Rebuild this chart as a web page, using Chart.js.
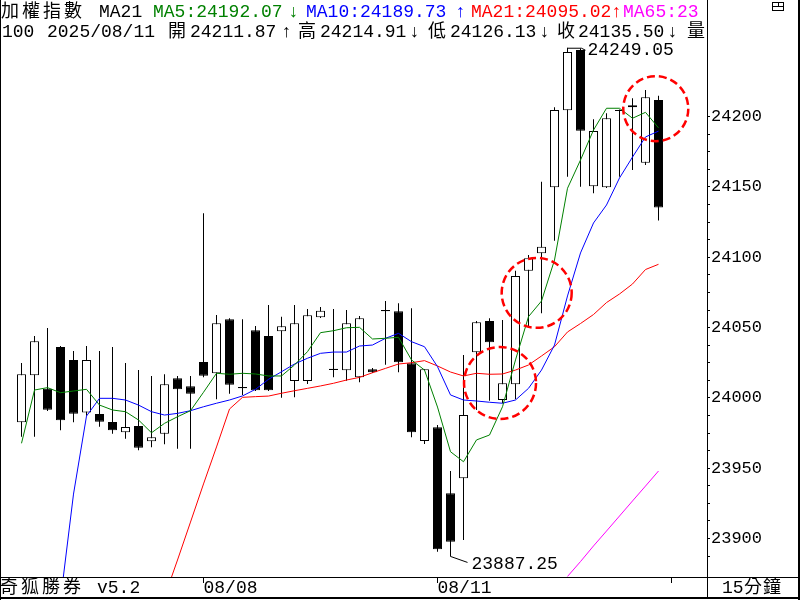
<!DOCTYPE html>
<html><head><meta charset="utf-8">
<script src="https://cdn.jsdelivr.net/npm/chart.js@4.4.1/dist/chart.umd.min.js"></script>
<style>
html,body{margin:0;padding:0;background:#fff;}
#wrap{position:relative;width:800px;height:600px;overflow:hidden;background:#fff;}
#c{position:absolute;left:0;top:0;}
.seg{position:absolute;white-space:pre;font-family:"Liberation Mono","Noto Sans CJK TC",monospace;font-size:18px;line-height:20px;color:#000;}
.arr{font-weight:bold;}
#hdr{position:absolute;left:0;top:0;width:707px;height:44px;overflow:hidden;}
</style></head>
<body><div id="wrap"><canvas id="c" width="800" height="600"></canvas><div id="hdr"></div><div id="foot"></div></div>
<script>
// ---- data (15-minute bars, index 0..49) ----
const barIndex = [0,1,2,3,4,5,6,7,8,9,10,11,12,13,14,15,16,17,18,19,20,21,22,23,24,25,26,27,28,29,30,31,32,33,34,35,36,37,38,39,40,41,42,43,44,45,46,47,48,49];
const open  = [23982.6,24016.1,24006.5,24036.2,24027.0,23989.7,23988.5,23982.9,23975.5,23980.0,23969.1,23974.5,24013.9,24008.2,24025.5,24017.5,24055.9,24007.7,24048.1,24044.0,24047.4,24012.0,24012.0,24057.3,24020.8,24019.6,24014.6,24020.3,24062.5,24061.6,24024.6,23969.3,23979.1,23932.1,23942.8,24032.4,24054.7,23998.5,24009.7,24090.5,24102.8,24149.8,24204.5,24247.5,24150.5,24149.8,24204.1,24206.7,24167.3,24211.87];
const high  = [24024.8,24044.0,24049.7,24036.9,24033.4,24036.9,24033.4,24036.2,24024.8,24019.8,24015.6,24016.8,24015.6,24015.6,24131.3,24059.0,24056.6,24055.9,24051.1,24066.1,24057.8,24066.1,24063.2,24064.6,24063.2,24062.5,24058.2,24021.3,24068.9,24067.3,24063.7,24020.3,23980.7,23948.0,24030.5,24054.7,24056.6,24055.4,24090.5,24101.6,24153.8,24206.7,24249.05,24248.5,24198.1,24202.4,24205.1,24213.1,24219.0,24214.91];
const low   = [23972.4,23972.4,23990.7,23977.0,23982.6,23987.3,23979.5,23974.5,23971.0,23962.7,23964.9,23967.0,23963.9,23963.9,24014.6,23999.0,24003.0,24002.1,24004.9,24004.9,24000.1,24000.4,24009.9,24056.8,24014.6,24012.2,24011.1,24017.7,24023.6,24018.2,23972.0,23967.2,23890.6,23887.25,23898.9,23991.4,23998.0,23996.2,23999.0,24050.2,24060.2,24111.8,24157.3,24150.2,24145.5,24149.3,24157.3,24162.1,24165.6,24126.13];
const close = [24016.8,24040.3,23991.6,23984.1,23988.8,24027.0,23983.1,23977.0,23979.3,23964.6,23972.0,24009.7,24006.1,24003.0,24015.8,24053.1,24009.4,24006.8,24005.4,24005.4,24050.9,24053.1,24058.7,24062.0,24019.8,24053.1,24056.6,24018.2,24061.6,24025.3,23975.5,24020.3,23892.3,23897.7,23987.8,24053.8,24039.5,24010.4,24086.7,24099.3,24107.5,24204.8,24246.0,24190.0,24189.8,24198.9,24204.8,24208.1,24213.8,24135.50];
const ma5   = [23967.7,24005.6,24007.3,24003.7,24004.9,24006.1,23994.9,23991.4,23990.2,23984.3,23975.2,23981.9,23986.6,23990.9,24004.0,24017.5,24016.8,24017.5,24017.0,24015.6,24015.6,24023.4,24032.9,24046.4,24047.8,24049.9,24050.2,24041.9,24042.4,24043.1,24027.0,24019.8,23993.5,23961.7,23954.6,23970.1,23973.6,23993.7,24027.0,24057.8,24068.9,24098.1,24149.1,24169.2,24190.5,24206.0,24206.0,24198.9,24203.1,24192.07];
const ma10  = [null,null,null,23856.3,23931.6,23987.1,23999.7,23999.7,23998.5,23994.9,23990.2,23987.8,23989.0,23990.9,23993.7,23996.2,23998.5,24001.4,24006.1,24013.2,24018.6,24024.1,24028.2,24031.7,24032.6,24032.6,24036.9,24037.6,24042.4,24045.9,24040.0,24036.4,24022.2,24002.1,23998.5,23997.8,23996.9,23996.2,23998.5,24006.8,24019.8,24037.6,24072.5,24103.1,24124.4,24137.2,24156.4,24171.3,24185.6,24189.73];
const ma21  = [null,null,null,null,null,null,null,null,null,null,null,23858.4,23884.7,23911.7,23938.8,23965.1,23992.1,24000.4,24000.9,24001.3,24003.3,24005.1,24006.8,24008.5,24010.4,24012.7,24014.6,24017.9,24021.0,24024.1,24025.0,24026.5,24022.7,24018.4,24015.6,24017.5,24016.8,24017.0,24019.8,24023.4,24029.8,24036.4,24046.9,24052.9,24059.3,24067.8,24073.9,24081.0,24091.3,24095.02];
const ma65  = [null,null,null,null,null,null,null,null,null,null,null,null,null,null,null,null,null,null,null,null,null,null,null,null,null,null,null,null,null,null,null,null,null,null,null,null,null,null,null,null,null,null,23873.0,23883.6,23894.7,23905.3,23916.0,23926.7,23937.3,23948.0];
const dateTickIndex  = [14, 32, 50];
const dateTickLabels = ['08/08', '08/11', ''];
const priceLabelTicks = [23900, 23950, 24000, 24050, 24100, 24150, 24200];
const minorTickStep = 12.5;
// marked zones (bar index, price, radius px)
const markIdx   = [36.81, 39.63, 48.79];
const markPrice = [24010.6, 24074.7, 24205.7];
const markR     = [36, 35, 32.5];

// ---- layout constants ----
const xMin = -21.5 / 13, xMax = (707 - 21.5) / 13;
const yMax = 24283.0, yMin = 24283.0 - 577 / 1.406;

const pts = arr => barIndex.map(i => ({x: i, y: arr[i]}));
const yTicks = [];
for (let v = 23887.5; v <= 24200; v += minorTickStep) yTicks.push(v);

const overlay = {
  id: 'overlay',
  afterDatasetsDraw(chart) {
    const c = chart.ctx, xs = chart.scales.x, ys = chart.scales.y;
    c.save();
    c.strokeStyle = '#ff0000'; c.lineWidth = 2.5; c.setLineDash([8, 4]);
    markIdx.forEach((m, k) => {
      c.beginPath();
      c.arc(xs.getPixelForValue(m), ys.getPixelForValue(markPrice[k]), markR[k], 0, Math.PI * 2);
      c.stroke();
    });
    c.setLineDash([]);
    c.strokeStyle = '#000'; c.lineWidth = 1; c.fillStyle = '#000';
    c.font = '18px "Liberation Mono"'; c.textBaseline = 'middle'; c.textAlign = 'left';
    let hi = 0, lo = 0;
    high.forEach((v, i) => { if (v > high[hi]) hi = i; });
    low.forEach((v, i) => { if (v < low[lo]) lo = i; });
    let px = xs.getPixelForValue(hi), py = ys.getPixelForValue(high[hi]);
    c.beginPath(); c.moveTo(px, py + 0.5); c.lineTo(px + 14, py + 0.5); c.lineTo(px + 18, py + 2.5); c.stroke();
    c.fillText(high[hi].toFixed(2), px + 20, py + 3);
    px = xs.getPixelForValue(lo); py = ys.getPixelForValue(low[lo]);
    c.beginPath(); c.moveTo(px, py); c.lineTo(px + 17, py + 6); c.stroke();
    c.fillText(low[lo].toFixed(2), px + 21, py + 8);
    c.restore();
  },
  afterDraw(chart) {
    const c = chart.ctx;
    c.save(); c.fillStyle = '#000';
    c.fillRect(0, 0, 1, 600);
    c.fillRect(0, 577, 800, 1);
    c.fillRect(707, 0, 1, 598);
    c.fillRect(0, 597, 800, 2);
    c.fillRect(798, 0, 2, 600);
    c.strokeStyle = '#000'; c.lineWidth = 1;
    c.strokeRect(772.5, 2.5, 11, 8);
    c.beginPath(); c.moveTo(773, 6.5); c.lineTo(783, 6.5); c.moveTo(778.5, 3); c.lineTo(778.5, 6.5); c.stroke();
    c.restore();
  }
};

new Chart(document.getElementById('c'), {
  type: 'bar',
  data: {
    datasets: [
      {type: 'line', label: 'MA5', data: pts(ma5), borderColor: '#008000', borderWidth: 1, pointRadius: 0, tension: 0, order: 0},
      {type: 'line', label: 'MA10', data: pts(ma10), borderColor: '#0000ff', borderWidth: 1, pointRadius: 0, tension: 0, order: 0},
      {type: 'line', label: 'MA21', data: pts(ma21), borderColor: '#ff0000', borderWidth: 1, pointRadius: 0, tension: 0, order: 0},
      {type: 'line', label: 'MA65', data: pts(ma65), borderColor: '#ff00ff', borderWidth: 1, pointRadius: 0, tension: 0, order: 0},
      {type: 'bar', label: 'body', order: 1, grouped: false, barThickness: 9, inflateAmount: 0,
       data: barIndex.map(i => ({x: i, y: [open[i], close[i]]})),
       backgroundColor: barIndex.map(i => close[i] >= open[i] ? '#ffffff' : '#000000'),
       borderColor: '#000000', borderWidth: 1, borderSkipped: false},
      {type: 'bar', label: 'wick', order: 2, grouped: false, barThickness: 1, inflateAmount: 0,
       data: barIndex.map(i => ({x: i, y: [low[i], high[i]]})),
       backgroundColor: '#000000', borderWidth: 0}
    ]
  },
  options: {
    responsive: false, animation: false, events: [], devicePixelRatio: 1,
    layout: {padding: 0},
    plugins: {legend: {display: false}, tooltip: {enabled: false}, title: {display: false}},
    scales: {
      x: {
        type: 'linear', min: xMin, max: xMax, offset: false,
        afterBuildTicks: s => { s.ticks = dateTickIndex.map(v => ({value: v})); },
        afterFit: s => { s.height = 23; s.paddingLeft = 0; s.paddingRight = 0; },
        grid: {offset: false, drawOnChartArea: false, drawTicks: true, tickLength: 6, color: '#000', tickColor: '#000'},
        border: {display: true, color: '#000', width: 1},
        ticks: {autoSkip: false, maxRotation: 0, minRotation: 0, align: 'start', padding: -6, color: '#000',
                font: {family: 'Liberation Mono', size: 18}, callback: (v, i) => dateTickLabels[i]}
      },
      y: {
        position: 'right', min: yMin, max: yMax,
        afterBuildTicks: s => { s.ticks = yTicks.map(v => ({value: v})); },
        afterFit: s => { s.width = 93; s.paddingTop = 0; s.paddingBottom = 0; },
        grid: {drawOnChartArea: false, drawTicks: true, tickLength: 3, color: '#000', tickColor: '#000'},
        border: {display: true, color: '#000', width: 1},
        ticks: {autoSkip: false, padding: 1, color: '#000', font: {family: 'Liberation Mono', size: 17},
                callback: v => priceLabelTicks.includes(v) ? String(v) : ''}
      }
    }
  },
  plugins: [overlay]
});

// ---- header / footer text ----
const L = open.length - 1;
const f2 = v => v.toFixed(2);
const arrow = (a, i) => a[i] >= a[i - 1] ? '↑' : '↓';
const G = '#008000', B = '#0000ff', R = '#ff0000', M = '#ff00ff', K = '#000';
const segs = [
  [1, 2, '加權指數', K, 3], [99, 2, 'MA21', K], [153, 2, 'MA5:' + f2(ma5[L]), G], [288, 2, arrow(ma5, L), G, 0, 1],
  [306, 2, 'MA10:' + f2(ma10[L]), B], [455, 2, arrow(ma10, L), B, 0, 1],
  [471, 2, 'MA21:' + f2(ma21[L]), R], [611, 2, arrow(ma21, L), R, 0, 1],
  [623, 2, 'MA65:' + String(ma65[L]).slice(0, 2), M],
  [2, 22, '100', K], [47, 22, '2025/08/11', K],
  [168, 22, '開', K], [190, 22, f2(open[L]), K], [281, 22, arrow(open, L), K, 0, 1],
  [298, 22, '高', K], [320, 22, f2(high[L]), K], [409, 22, arrow(high, L), K, 0, 1],
  [428, 22, '低', K], [450, 22, f2(low[L]), K], [539, 22, arrow(low, L), K, 0, 1],
  [557, 22, '收', K], [578, 22, f2(close[L]), K], [667, 22, arrow(close, L), K, 0, 1],
  [687, 22, '量', K]
];
const hdr = document.getElementById('hdr');
segs.forEach(s => {
  const d = document.createElement('div'); d.className = s[5] ? 'seg arr' : 'seg';
  d.style.left = s[0] + 'px'; d.style.top = s[1] + 'px'; d.style.color = s[3];
  if (s[4]) d.style.letterSpacing = s[4] + 'px';
  d.textContent = s[2]; hdr.appendChild(d);
});
const foot = document.getElementById('foot');
[[0, 578, '奇狐勝券', 3], [97, 578, 'v5.2', 0], [722, 578, '15', 0], [744, 578, '分鐘', 1]].forEach(s => {
  const d = document.createElement('div'); d.className = 'seg';
  d.style.left = s[0] + 'px'; d.style.top = s[1] + 'px';
  if (s[3]) d.style.letterSpacing = s[3] + 'px';
  d.textContent = s[2]; foot.appendChild(d);
});
</script>
</body></html>
